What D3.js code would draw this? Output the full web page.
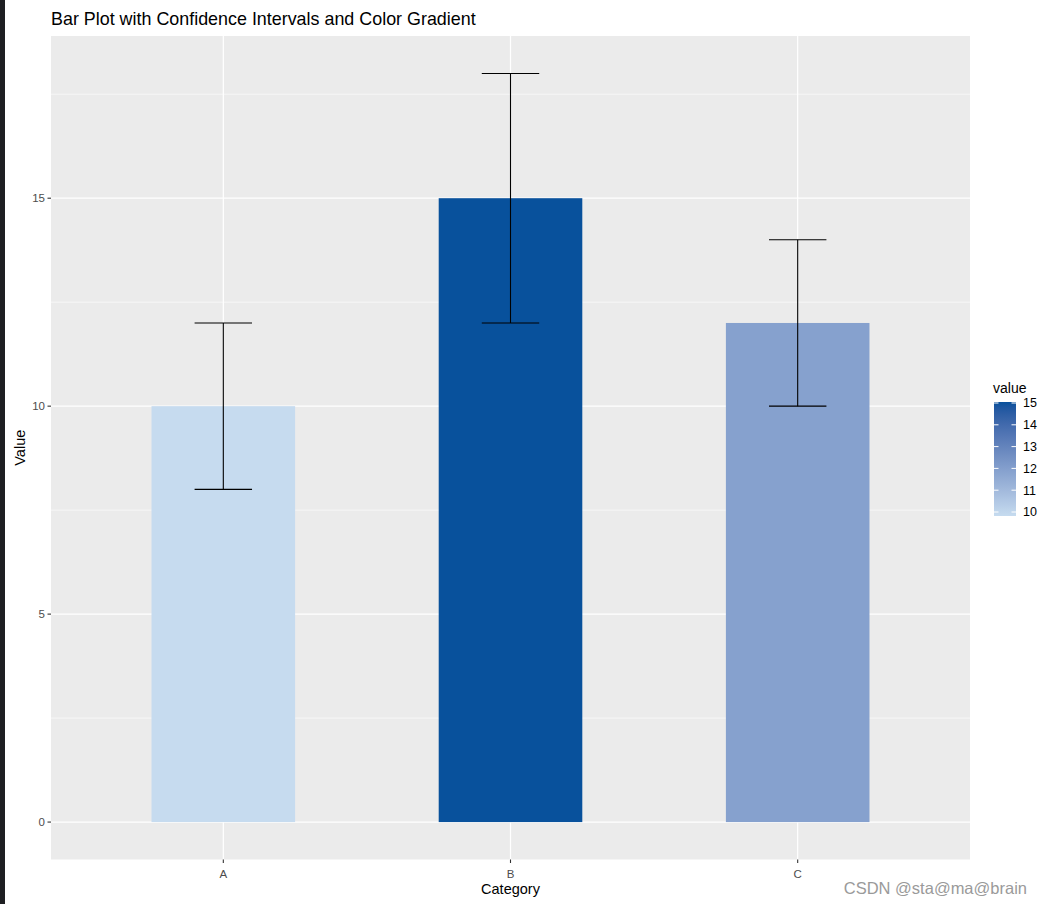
<!DOCTYPE html>
<html><head><meta charset="utf-8">
<script src="https://cdn.jsdelivr.net/npm/d3@7"></script>
<style>body{margin:0;background:#fff;}svg{display:block;font-family:"Liberation Sans",Arial,sans-serif;}</style>
</head><body>
<svg id="c" width="1042" height="904"></svg>
<script>
const categories = ["A", "B", "C"];
const values = [10, 15, 12];
const lower = [8, 12, 10];
const upper = [12, 18, 14];
const yTicks = [0, 5, 10, 15];
const yMinor = [2.5, 7.5, 12.5, 17.5];
const legendTicks = [10, 11, 12, 13, 14, 15];

const svg = d3.select("#c");
const W = 1042, H = 904;
svg.append("rect").attr("width", W).attr("height", H).attr("fill", "#fff");
// screenshot edge strip
svg.append("rect").attr("x", 0).attr("y", 0).attr("width", 5).attr("height", H).attr("fill", "#1e1f22");

const pl = 51, pr = 970, pt = 36, pb = 859.5;
const yMax = d3.max(upper), yMin = 0;
const ex = (yMax - yMin) * 0.05;
const y = d3.scaleLinear().domain([yMin - ex, yMax + ex]).range([pb, pt]);
const xc = d3.scaleLinear().domain([0.4, categories.length + 0.6]).range([pl, pr]);
const xPos = c => xc(categories.indexOf(c) + 1);
const color = d3.scaleLinear().domain([d3.min(values), d3.max(values)]).range(["#c6dbef", "#08519c"]).interpolate(d3.interpolateLab);

svg.append("rect").attr("x", pl).attr("y", pt).attr("width", pr - pl).attr("height", pb - pt).attr("fill", "#ebebeb");
const g = svg.append("g");
yMinor.forEach(v => g.append("line").attr("x1", pl).attr("x2", pr).attr("y1", y(v)).attr("y2", y(v)).attr("stroke", "#fff").attr("stroke-width", 0.6));
yTicks.forEach(v => g.append("line").attr("x1", pl).attr("x2", pr).attr("y1", y(v)).attr("y2", y(v)).attr("stroke", "#fff").attr("stroke-width", 1.2));
categories.forEach(c => g.append("line").attr("x1", xPos(c)).attr("x2", xPos(c)).attr("y1", pt).attr("y2", pb).attr("stroke", "#fff").attr("stroke-width", 1.2));

const bw = xc(1.25) - xc(0.75);
categories.forEach((c, i) => {
  g.append("rect").attr("x", xPos(c) - bw / 2).attr("y", y(values[i])).attr("width", bw)
    .attr("height", y(0) - y(values[i])).attr("fill", color(values[i]));
});
const ew = xc(1.1) - xc(0.9);
categories.forEach((c, i) => {
  const cx = xPos(c);
  g.append("line").attr("x1", cx).attr("x2", cx).attr("y1", y(lower[i])).attr("y2", y(upper[i])).attr("stroke", "#000").attr("stroke-width", 1.1);
  [lower[i], upper[i]].forEach(v => g.append("line").attr("x1", cx - ew / 2).attr("x2", cx + ew / 2).attr("y1", y(v)).attr("y2", y(v)).attr("stroke", "#000").attr("stroke-width", 1.1));
});

// y axis
yTicks.forEach(v => {
  svg.append("line").attr("x1", pl - 3.5).attr("x2", pl).attr("y1", y(v)).attr("y2", y(v)).attr("stroke", "#333").attr("stroke-width", 1.1);
  svg.append("text").attr("x", pl - 6).attr("y", y(v)).attr("dy", "0.35em").attr("text-anchor", "end")
    .attr("font-size", 11.5).attr("fill", "#4d4d4d").text(v);
});
// x axis
categories.forEach(c => {
  svg.append("line").attr("x1", xPos(c)).attr("x2", xPos(c)).attr("y1", pb).attr("y2", pb + 3.5).attr("stroke", "#333").attr("stroke-width", 1.1);
  svg.append("text").attr("x", xPos(c)).attr("y", pb + 18).attr("text-anchor", "middle")
    .attr("font-size", 11.5).attr("fill", "#4d4d4d").text(c);
});
svg.append("text").attr("x", (pl + pr) / 2).attr("y", 894).attr("text-anchor", "middle").attr("font-size", 14.5).attr("fill", "#000").text("Category");
svg.append("text").attr("transform", `translate(25,${(pt + pb) / 2}) rotate(-90)`).attr("text-anchor", "middle").attr("font-size", 14.5).attr("fill", "#000").text("Value");
svg.append("text").attr("x", pl).attr("y", 25).attr("font-size", 17.9).attr("fill", "#000").text("Bar Plot with Confidence Intervals and Color Gradient");

// legend
const lx = 994, lw = 22, ly0 = 402, ly1 = 516;
const defs = svg.append("defs");
const grad = defs.append("linearGradient").attr("id", "lg").attr("x1", 0).attr("x2", 0).attr("y1", 1).attr("y2", 0);
d3.range(0, 1.0001, 0.05).forEach(t => grad.append("stop").attr("offset", t).attr("stop-color", color(10 + t * 5)));
const lyScale = d3.scaleLinear().domain([10, 15]).range([ly1 - 4, ly0 + 1]);
svg.append("rect").attr("x", lx).attr("y", ly0).attr("width", lw).attr("height", ly1 - ly0).attr("fill", "url(#lg)");
legendTicks.forEach(v => {
  const yy = lyScale(v);
  svg.append("line").attr("x1", lx).attr("x2", lx + 4.5).attr("y1", yy).attr("y2", yy).attr("stroke", "#fff").attr("stroke-width", 1);
  svg.append("line").attr("x1", lx + lw - 4.5).attr("x2", lx + lw).attr("y1", yy).attr("y2", yy).attr("stroke", "#fff").attr("stroke-width", 1);
  svg.append("text").attr("x", lx + lw + 7).attr("y", yy).attr("dy", "0.35em").attr("font-size", 12.5).attr("fill", "#000").text(v);
});
svg.append("text").attr("x", lx - 1).attr("y", 393).attr("font-size", 14).attr("fill", "#000").text("value");

// watermark
svg.append("text").attr("x", 1027).attr("y", 894).attr("text-anchor", "end").attr("font-size", 16.5).attr("fill", "#9a9a9a").text("CSDN @sta@ma@brain");
</script>
</body></html>
